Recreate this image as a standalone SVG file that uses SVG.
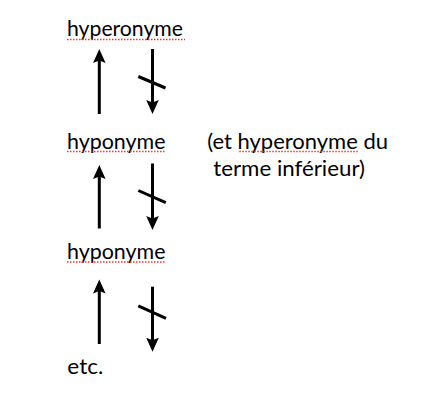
<svg xmlns="http://www.w3.org/2000/svg" width="433" height="415" viewBox="0 0 433 415">
<style>
.t{font-family:Lato,"Open Sans","Liberation Sans",sans-serif;font-size:21.5px;fill:#000}
.sp{stroke:#e03c31;stroke-width:1.5;stroke-dasharray:1.5 1.5;fill:none}
.ar{stroke:#000;stroke-width:3;fill:none;marker-end:url(#ah)}
.sl{stroke:#000;stroke-width:3;fill:none}
</style>
<defs>
<marker id="ah" markerUnits="userSpaceOnUse" viewBox="-10 -10 22 20" markerWidth="22" markerHeight="20" refX="0" refY="0" orient="auto" overflow="visible">
<path d="M10,0 L-4,-6.3 L-1.5,0 L-4,6.3 Z" fill="#000"/>
</marker>
</defs>
<rect width="433" height="415" fill="#fff"/>
<g id="n-hyperonyme">
<text class="t" x="67" y="36" textLength="116" lengthAdjust="spacingAndGlyphs">hyperonyme</text>
<line class="sp" x1="67" y1="39.5" x2="185" y2="39.5"/>
</g>
<g id="n-hyponyme1">
<text class="t" x="67" y="149" textLength="98.5" lengthAdjust="spacingAndGlyphs">hyponyme</text>
<line class="sp" x1="67" y1="151.5" x2="166" y2="151.5"/>
</g>
<g id="n-note">
<text class="t" x="207.3" y="149" textLength="180.7" lengthAdjust="spacingAndGlyphs">(et hyperonyme du</text>
<text class="t" x="213.3" y="175.5" textLength="151.7" lengthAdjust="spacingAndGlyphs">terme inférieur)</text>
<line class="sp" x1="239.3" y1="151.5" x2="359.3" y2="151.5"/>
</g>
<g id="n-hyponyme2">
<text class="t" x="67" y="259" textLength="98.5" lengthAdjust="spacingAndGlyphs">hyponyme</text>
<line class="sp" x1="67" y1="262" x2="166" y2="262"/>
</g>
<g id="n-etc">
<text class="t" x="67.3" y="374" textLength="36" lengthAdjust="spacingAndGlyphs">etc.</text>
</g>
<g id="connectors">
<line class="ar" x1="99.3" y1="114" x2="99.3" y2="59"/>
<line class="ar" x1="152.5" y1="49" x2="152.5" y2="104"/>
<line class="sl" x1="138.3" y1="76.5" x2="165.5" y2="88"/>
<line class="ar" x1="99.3" y1="228.5" x2="99.3" y2="175"/>
<line class="ar" x1="152.5" y1="163.5" x2="152.5" y2="220"/>
<line class="sl" x1="138.3" y1="190.5" x2="165.8" y2="202.7"/>
<line class="ar" x1="99.3" y1="344" x2="99.3" y2="289.5"/>
<line class="ar" x1="152.5" y1="286.7" x2="152.5" y2="341.7"/>
<line class="sl" x1="138.3" y1="305.8" x2="166" y2="318.3"/>
</g>
</svg>
